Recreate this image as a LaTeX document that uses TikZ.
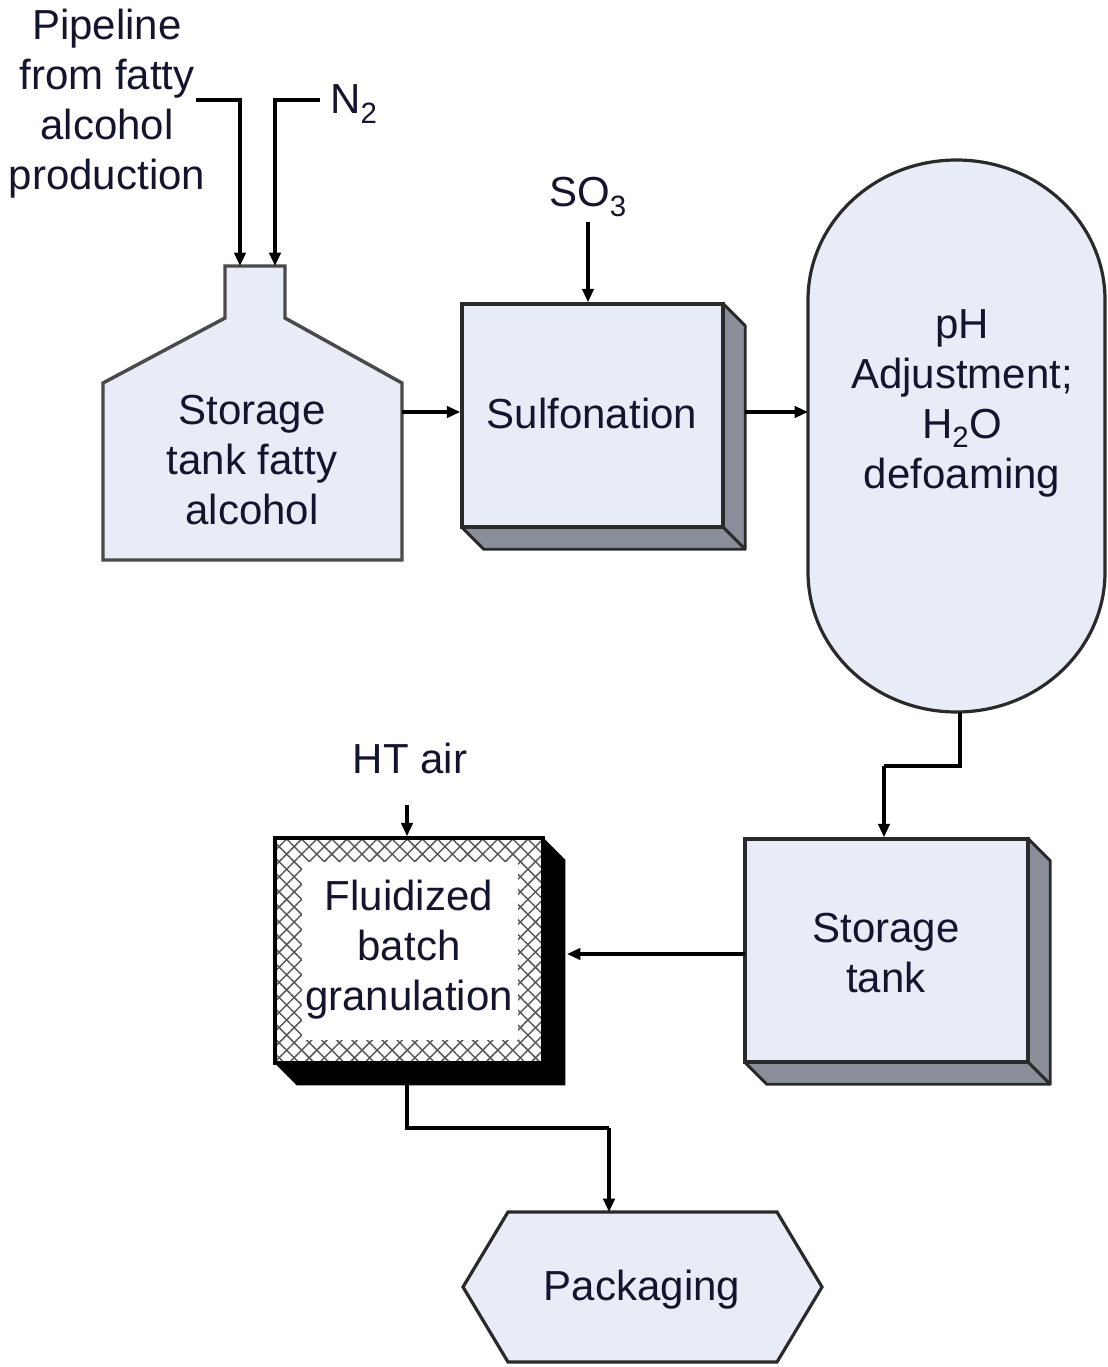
\documentclass[tikz,border=0pt]{standalone}
\usepackage{fontspec}
\setmainfont{Liberation Sans}
\usetikzlibrary{arrows.meta,patterns,patterns.meta,calc}
\definecolor{boxfill}{HTML}{E8ECF6}
\definecolor{shadowgray}{HTML}{8A8E98}
\definecolor{ink}{HTML}{14142E}
\definecolor{edge}{HTML}{2A2A2A}
\begin{document}
\begin{tikzpicture}[x=0.75pt,y=-0.75pt,
  lbl/.style={font=\fontsize{31.5pt}{37.5pt}\selectfont, text=ink, align=center, inner sep=0pt},
  flow/.style={line width=2.4pt, draw=black, -{Triangle[length=10pt,width=8.5pt]}},
  link/.style={line width=2.4pt, draw=black},
  procbox/.style={draw=edge, line width=2.6pt, fill=boxfill, inner sep=0pt}
]
\useasboundingbox (0,0) rectangle (1107,1367);

% ---------- storage tank fatty alcohol ----------
\draw[draw=edge!85, line width=2.6pt, fill=boxfill, line join=miter]
  (225,266) -- (285,266) -- (285,318) -- (402,383) -- (402,560) -- (103,560) -- (103,383) -- (225,318) -- cycle;
\node[lbl] (tank) at (252,460) {Storage\\tank fatty\\alcohol};
\coordinate (tankin1) at (240,266);
\coordinate (tankin2) at (275,266);
\coordinate (tankout) at (402,412);

% inputs
\node[lbl, anchor=center] (pipe) at (107,104) {Pipeline\\from fatty\\alcohol\\production};
\node[lbl, anchor=west] (ntwo) at (330,104) {N\textsubscript{2}};
\coordinate (pipeend) at (196,100);
\coordinate (ntwoend) at (320,100);
\draw[flow] (pipeend) -| (tankin1);
\draw[flow] (ntwoend) -| (tankin2);

% ---------- sulfonation ----------
\node[minimum width={261*0.75pt}, minimum height={223*0.75pt}, inner sep=0pt] (sulf) at (592.5,415.5) {};
\fill[shadowgray] (sulf.north east) -- ($(sulf.north east)+(22,22)$) -- ($(sulf.south east)+(22,22)$) -- ($(sulf.south west)+(22,22)$) -- (sulf.south west) -- cycle;
\draw[edge, line width=2.2pt, line join=round] (sulf.north east) -- ($(sulf.north east)+(22,22)$) -- ($(sulf.south east)+(22,22)$) -- ($(sulf.south west)+(22,22)$) -- (sulf.south west);
\draw[edge, line width=2.2pt] (sulf.south east) -- ($(sulf.south east)+(22,22)$);
\node[procbox, minimum width={261*0.75pt}, minimum height={223*0.75pt}] (sulfbox) at (sulf) {};
\node[lbl] (sulftxt) at (592,413) {Sulfonation};
\node[lbl] (sothree) at (588,197) {SO\textsubscript{3}};
\coordinate (sotop) at (588,222);
\draw[flow] (sotop) -- (sulfbox.north -| sotop);
\draw[flow] (tankout) -- (sulfbox.west |- tankout);
\coordinate (sulfout) at (745,412);

% ---------- pH adjustment capsule ----------
\coordinate (phw) at (808,412);
\draw[draw=edge, line width=2.4pt, fill=boxfill]
  (808,300) -- (808,572) arc[start angle=180, end angle=0, x radius=148.5, y radius=140]
  -- (1105,300) arc[start angle=0, end angle=-180, x radius=148.5, y radius=140] -- cycle;
\node[lbl] (ph) at (962,403) {pH\\Adjustment;\\H\textsubscript{2}O\\defoaming};
\draw[flow] (sulfout) -- (phw);
\coordinate (phbot) at (960,712);

% ---------- storage tank ----------
\node[minimum width={283*0.75pt}, minimum height={223*0.75pt}, inner sep=0pt] (stor) at (886.5,950.5) {};
\fill[shadowgray] (stor.north east) -- ($(stor.north east)+(22,22)$) -- ($(stor.south east)+(22,22)$) -- ($(stor.south west)+(22,22)$) -- (stor.south west) -- cycle;
\draw[edge, line width=2.2pt, line join=round] (stor.north east) -- ($(stor.north east)+(22,22)$) -- ($(stor.south east)+(22,22)$) -- ($(stor.south west)+(22,22)$) -- (stor.south west);
\draw[edge, line width=2.2pt] (stor.south east) -- ($(stor.south east)+(22,22)$);
\node[procbox, minimum width={283*0.75pt}, minimum height={223*0.75pt}] (storbox) at (stor) {};
\node[lbl] (stortxt) at (886,953) {Storage\\tank};
\coordinate (bend1) at (960,766);
\coordinate (bend2) at (884,766);
\draw[link] (phbot) -- (bend1) -- (bend2);
\draw[flow] (bend2) -- (storbox.north -| bend2);

% ---------- fluidized batch granulation ----------
\node[minimum width={268*0.75pt}, minimum height={225*0.75pt}, inner sep=0pt] (flu) at (409,950.5) {};
\fill[black] (flu.north east) -- ($(flu.north east)+(22,22)$) -- ($(flu.south east)+(22,22)$) -- ($(flu.south west)+(22,22)$) -- (flu.south west) -- cycle;
\fill[white] (flu.north west) rectangle (flu.south east);
\fill[pattern={Lines[angle=45,distance=8pt,line width=1.1pt]}, pattern color=black!65] (flu.north west) rectangle (flu.south east);
\fill[pattern={Lines[angle=-45,distance=8pt,line width=1.1pt]}, pattern color=black!65] (flu.north west) rectangle (flu.south east);
\fill[white] (302,862) rectangle (518,1040);
\node[draw=black, line width=2.6pt, minimum width={268*0.75pt}, minimum height={225*0.75pt}, inner sep=0pt] (flubox) at (flu) {};
\node[lbl] (flutxt) at (409,950) {Fluidized\\batch\\granulation};
\node[lbl] (htair) at (410,758) {HT air};
\coordinate (httop) at (407,805);
\draw[flow] (httop) -- (flubox.north -| httop);
\coordinate (storw) at (745,954);
\coordinate (flue) at (567,954);
\draw[flow] (storw) -- (flue);

% ---------- packaging ----------
\draw[draw=edge, line width=2.4pt, fill=boxfill, line join=miter]
  (508,1212) -- (777,1212) -- (822,1287) -- (777,1362) -- (508,1362) -- (463,1287) -- cycle;
\node[lbl] (pack) at (642,1290) {Packaging};
\coordinate (flubot) at (407,1085);
\coordinate (b3) at (407,1128);
\coordinate (b4) at (609,1128);
\coordinate (packtop) at (609,1212);
\draw[link] (flubot) -- (b3) -- (b4);
\draw[flow] (b4) -- (packtop);
\end{tikzpicture}
\end{document}
